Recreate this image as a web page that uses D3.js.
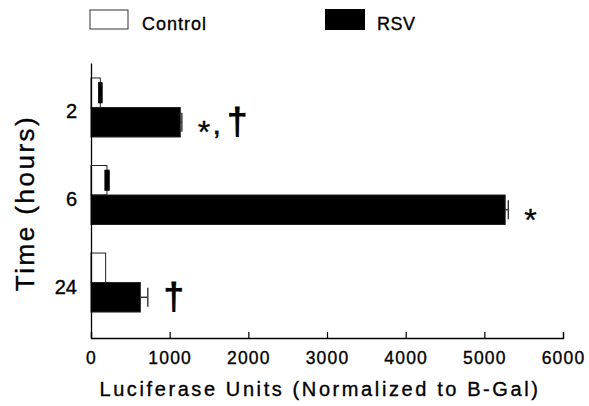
<!DOCTYPE html>
<html>
<head>
<meta charset="utf-8">
<script src="https://cdn.jsdelivr.net/npm/d3@7"></script>
<style>
  body { margin: 0; background: #fff; }
  text { font-family: "Liberation Sans", Arial, Helvetica, sans-serif; fill: #000; stroke: #000; stroke-width: 0.35px; }
</style>
</head>
<body>
<div class="div1"></div>
<script>
// data
const times = ["2", "6", "24"];
const groups = ["Control", "RSV"];
const controlValues = [118, 203, 186];
const controlErrors = [15, 20, 0];
const rsvValues = [1135, 5265, 627];
const rsvErrors = [20, 40, 95];
const marks = ["*,†", "*", "†"];
const xTicks = [0, 1000, 2000, 3000, 4000, 5000, 6000];

function luciferaseChart(){
  const dataset = [];
  times.forEach((t, i) => {
    dataset.push({time: t, group: "Control", value: controlValues[i], err: controlErrors[i]});
    dataset.push({time: t, group: "RSV", value: rsvValues[i], err: rsvErrors[i]});
  });

  let margin = {top: 63, right: 26, bottom: 68, left: 91};
  let width = 589 - margin.left - margin.right;
  let height = 406 - margin.top - margin.bottom;

  const svg = d3.select(".div1")
    .append("svg")
    .attr("width", width + margin.left + margin.right)
    .attr("height", height + margin.top + margin.bottom);

  let g = svg.append("g")
    .attr("transform", "translate(" + margin.left + "," + margin.top + ")");

  let x = d3.scaleLinear()
    .domain([0, 6000])
    .range([0, width]);

  let y = d3.scaleBand()
    .domain(times)
    .range([0, height])
    .paddingInner(0.326)
    .paddingOuter(0.234)
    .align(0.366);

  let ySub = d3.scaleBand()
    .domain(groups)
    .range([0, y.bandwidth()]);

  // bars
  g.selectAll(null)
    .data(dataset)
    .enter()
    .append("rect")
    .attr("x", x(0))
    .attr("y", d => y(d.time) + ySub(d.group))
    .attr("width", d => x(d.value) - x(0))
    .attr("height", ySub.bandwidth())
    .attr("fill", d => d.group == "RSV" ? "#000" : "#fff")
    .attr("stroke", "#222")
    .attr("stroke-width", 1);

  // error bars; for the small control errors both caps merge into one block
  let capH = ySub.bandwidth() * 0.65;
  let eb = g.selectAll(null)
    .data(dataset.filter(d => d.err > 0))
    .enter()
    .append("g")
    .attr("transform", d => "translate(0," + (y(d.time) + ySub(d.group) + ySub.bandwidth() / 2) + ")")
    .attr("stroke", d => d.group == "RSV" ? "#333" : "#000")
    .attr("stroke-width", d => d.group == "RSV" ? 1.4 : 2);
  eb.append("line")
    .attr("x1", d => x(d.group == "RSV" ? d.value : d.value - d.err))
    .attr("x2", d => x(d.value + d.err))
    .attr("y1", 0).attr("y2", 0);
  eb.append("line")
    .attr("x1", d => x(d.value + d.err)).attr("x2", d => x(d.value + d.err))
    .attr("y1", -capH / 2).attr("y2", capH / 2);
  eb.filter(d => d.group == "Control")
    .append("rect")
    .attr("x", d => x(d.value - d.err))
    .attr("y", -capH / 2)
    .attr("width", d => x(d.value + d.err) - x(d.value - d.err))
    .attr("height", capH)
    .attr("fill", "#000");

  // significance marks next to the RSV bars
  let ann = g.selectAll(null)
    .data(dataset.filter(d => d.group == "RSV"))
    .enter()
    .append("text")
    .attr("x", d => x(d.value + d.err) + 16)
    .attr("y", d => y(d.time) + ySub("RSV") + ySub.bandwidth() / 2 + 12)
    .attr("font-size", "32px");
  ann.each(function(d, i){
    let t = d3.select(this);
    let prev = null;
    for (const ch of marks[i]) {
      let sp = t.append("tspan").text(ch);
      let dy = 0;
      if (ch == "*") dy += 9;
      if (prev == "*") dy -= 9;
      if (ch == ",") sp.attr("dx", 2);
      if (ch == "†" && prev) sp.attr("dx", 6);
      if (ch == "†") sp.attr("font-size", "36px").style("stroke-width", "1px");
      if (dy) sp.attr("dy", dy);
      prev = ch;
    }
  });

  // y axis
  let leftAxis = d3.axisLeft(y)
    .tickSize(0)
    .tickPadding(14);
  let ya = g.append("g")
    .attr("class", "left axis")
    .call(leftAxis);
  ya.select(".domain").attr("stroke", "#000").attr("stroke-width", 1.3);
  ya.selectAll("text")
    .attr("font-size", "20px")
    .attr("dy", "0.55em")
    .style("font-family", "'Liberation Sans', Arial, sans-serif");

  // x axis, ticks point inward
  let bottomAxis = d3.axisBottom(x)
    .tickValues(xTicks)
    .tickFormat(d => d)
    .tickSizeInner(-6)
    .tickSizeOuter(-6)
    .tickPadding(14);
  let xa = g.append("g")
    .attr("class", "x axis")
    .attr("transform", "translate(0," + height + ")")
    .call(bottomAxis);
  xa.select(".domain").attr("stroke", "#000").attr("stroke-width", 1.3);
  xa.selectAll(".tick line").attr("stroke", "#000").attr("stroke-width", 1.2);
  xa.selectAll("text")
    .attr("font-size", "17.5px")
    .attr("letter-spacing", "1.2px")
    .style("font-family", "'Liberation Sans', Arial, sans-serif");

  // axis titles
  svg.append("text")
    .attr("x", 320)
    .attr("y", 396)
    .attr("font-size", "20px")
    .attr("letter-spacing", "2.6px")
    .attr("text-anchor", "middle")
    .text("Luciferase Units (Normalized to B-Gal)");

  svg.append("text")
    .attr("transform", "translate(34,203) rotate(-90)")
    .attr("font-size", "26px")
    .attr("letter-spacing", "2.5px")
    .attr("text-anchor", "middle")
    .text("Time (hours)");

  // legend
  svg.append("rect")
    .attr("x", 90).attr("y", 10).attr("width", 38).attr("height", 19)
    .attr("fill", "#fff").attr("stroke", "#333").attr("stroke-width", 1);
  svg.append("text")
    .attr("x", 142).attr("y", 30)
    .attr("font-size", "18px").attr("letter-spacing", "1px")
    .text(groups[0]);
  svg.append("rect")
    .attr("x", 325).attr("y", 9).attr("width", 40).attr("height", 21)
    .attr("fill", "#000");
  svg.append("text")
    .attr("x", 377).attr("y", 30)
    .attr("font-size", "18px").attr("letter-spacing", "0.5px")
    .text(groups[1]);
}

luciferaseChart();
</script>
</body>
</html>
